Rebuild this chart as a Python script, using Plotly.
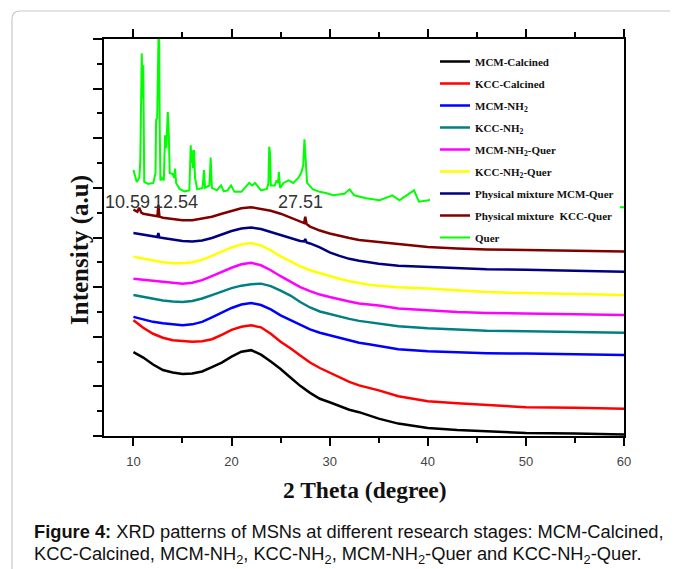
import plotly.graph_objects as go

# ---------------- data (arbitrary intensity units) ----------------
two_theta = [10, 11, 12, 13, 14, 15, 16, 17, 18, 19, 20, 21, 22, 23, 24, 25, 26, 27, 28,
             29, 30, 31, 32, 33, 34, 35, 37, 40, 43, 46, 50, 55, 60]

mcm_calcined = [1.69, 1.58, 1.44, 1.33, 1.28, 1.25, 1.26, 1.30, 1.39, 1.48, 1.60, 1.70, 1.73,
                1.64, 1.50, 1.35, 1.18, 1.01, 0.87, 0.75, 0.68, 0.60, 0.53, 0.48, 0.41, 0.35,
                0.25, 0.16, 0.12, 0.10, 0.06, 0.05, 0.03]
kcc_calcined = [2.33, 2.18, 2.06, 1.98, 1.93, 1.91, 1.90, 1.91, 1.95, 2.04, 2.14, 2.20, 2.23,
                2.19, 2.06, 1.90, 1.77, 1.62, 1.48, 1.37, 1.28, 1.18, 1.09, 1.02, 0.97, 0.92,
                0.80, 0.70, 0.66, 0.62, 0.58, 0.57, 0.55]
mcm_nh2 = [2.40, 2.35, 2.30, 2.27, 2.25, 2.23, 2.25, 2.30, 2.39, 2.49, 2.58, 2.65, 2.68,
           2.64, 2.55, 2.43, 2.34, 2.24, 2.15, 2.08, 2.03, 1.98, 1.93, 1.88, 1.85, 1.82,
           1.75, 1.71, 1.69, 1.67, 1.66, 1.64, 1.63]
kcc_nh2 = [2.84, 2.80, 2.76, 2.73, 2.71, 2.70, 2.72, 2.77, 2.84, 2.91, 2.98, 3.03, 3.06,
           3.07, 3.02, 2.93, 2.83, 2.70, 2.59, 2.51, 2.46, 2.40, 2.36, 2.32, 2.29, 2.27,
           2.21, 2.17, 2.14, 2.12, 2.11, 2.09, 2.08]
mcm_nh2_quer = [3.17, 3.15, 3.13, 3.10, 3.08, 3.07, 3.09, 3.14, 3.22, 3.31, 3.39, 3.46, 3.49,
                3.44, 3.34, 3.22, 3.11, 3.00, 2.92, 2.85, 2.80, 2.75, 2.71, 2.67, 2.65, 2.63,
                2.57, 2.53, 2.50, 2.48, 2.47, 2.45, 2.44]
kcc_nh2_quer = [3.61, 3.57, 3.53, 3.50, 3.48, 3.48, 3.50, 3.55, 3.63, 3.72, 3.80, 3.86, 3.89,
                3.84, 3.74, 3.62, 3.52, 3.42, 3.34, 3.28, 3.23, 3.17, 3.12, 3.08, 3.05, 3.03,
                3.00, 2.97, 2.93, 2.90, 2.88, 2.86, 2.84]

pm_mcm_x = [10, 11, 12, 12.45, 12.54, 12.65, 13, 14, 15, 16, 17, 18, 19, 20, 21, 22, 23, 24,
            25, 26, 27, 27.4, 27.51, 27.65, 28, 29, 30, 31, 32, 33, 34, 35, 37, 40, 43, 46,
            50, 55, 60]
pm_mcm_quer = [4.09, 4.06, 4.02, 4.01, 4.09, 4.00, 3.99, 3.96, 3.93, 3.92, 3.94, 3.99, 4.06,
               4.13, 4.18, 4.20, 4.17, 4.11, 4.04, 3.98, 3.93, 3.92, 3.97, 3.90, 3.88, 3.80,
               3.70, 3.63, 3.57, 3.53, 3.50, 3.47, 3.43, 3.41, 3.38, 3.36, 3.35, 3.33, 3.31]

pm_kcc_x = [10, 10.4, 10.59, 10.8, 11, 12, 12.45, 12.54, 12.65, 13, 14, 15, 16, 17, 18, 19,
            20, 21, 22, 23, 24, 25, 26, 27, 27.4, 27.51, 27.65, 28, 29, 30, 31, 32, 33, 34,
            35, 37, 40, 43, 46, 50, 55, 60]
pm_kcc_quer = [4.56, 4.52, 4.60, 4.50, 4.48, 4.44, 4.43, 4.66, 4.42, 4.40, 4.37, 4.35, 4.35,
               4.38, 4.42, 4.48, 4.54, 4.59, 4.61, 4.58, 4.54, 4.48, 4.40, 4.32, 4.29, 4.42,
               4.27, 4.22, 4.14, 4.08, 4.03, 3.99, 3.95, 3.93, 3.92, 3.87, 3.81, 3.78, 3.76,
               3.75, 3.73, 3.72]

quer_x = [10.0, 10.34, 10.6, 10.7, 10.85, 10.93, 11.0, 11.1, 11.5, 12.03, 12.25, 12.31, 12.42,
          12.5, 12.6, 12.68, 12.75, 12.9, 13.1, 13.22, 13.35, 13.5, 13.6, 13.7, 14.0, 14.15,
          14.24, 14.35, 14.7, 15.2, 15.7, 15.84, 15.92, 15.98, 16.08, 16.18, 16.28, 16.5,
          17.05, 17.19, 17.3, 17.75, 17.87, 18.0, 18.5, 18.93, 19.2, 19.6, 19.95, 20.3, 21.0,
          21.8, 22.1, 22.4, 23.0, 23.6, 23.76, 23.84, 23.92, 24.0, 24.4, 24.6, 24.75, 24.82,
          24.95, 25.3, 25.8, 26.3, 26.8, 27.1, 27.3, 27.43, 27.55, 27.7, 28.3, 29.0, 29.7,
          30.35, 31.5, 32.04, 32.5, 33.7, 35.1, 36.4, 37.1, 38.6, 39.1, 40.1, 40.8, 41.8,
          45, 50, 55, 60]
quer = [5.36, 5.12, 5.20, 5.55, 7.71, 6.80, 7.47, 5.12, 5.08, 5.10, 5.30, 6.37, 6.40,
        8.60, 8.60, 6.20, 5.15, 5.20, 5.15, 6.06, 5.80, 6.53, 6.10, 5.30, 5.28, 5.20,
        5.39, 5.10, 4.98, 4.93, 4.95, 5.86, 5.50, 5.75, 5.40, 5.76, 5.20, 4.97,
        5.00, 5.36, 5.00, 5.05, 5.61, 5.00, 4.95, 5.05, 4.93, 4.95, 5.05, 4.92, 4.92,
        5.10, 5.05, 5.10, 4.95, 4.98, 5.10, 5.83, 5.70, 5.05, 5.05, 5.15, 5.10, 5.32,
        5.00, 5.10, 5.15, 5.10, 5.20, 5.30, 5.45, 5.98, 5.60, 5.10, 4.97, 4.92, 4.89,
        4.85, 4.88, 4.97, 4.85, 4.79, 4.75, 4.85, 4.75, 4.95, 4.72, 4.75, 4.82, 4.72,
        4.68, 4.65, 4.63, 4.61]

peak_labels = ["10.59", "12.54", "27.51"]
peak_positions = [10.59, 12.54, 27.51]

x_ticks = [10, 20, 30, 40, 50, 60]

series = [
    ("MCM-Calcined", two_theta, mcm_calcined, "#000000"),
    ("KCC-Calcined", two_theta, kcc_calcined, "#ff0000"),
    ("MCM-NH<sub>2</sub>", two_theta, mcm_nh2, "#0000ff"),
    ("KCC-NH<sub>2</sub>", two_theta, kcc_nh2, "#008080"),
    ("MCM-NH<sub>2</sub>-Quer", two_theta, mcm_nh2_quer, "#ff00ff"),
    ("KCC-NH<sub>2</sub>-Quer", two_theta, kcc_nh2_quer, "#ffff00"),
    ("Physical mixture MCM-Quer", pm_mcm_x, pm_mcm_quer, "#000080"),
    ("Physical mixture  KCC-Quer", pm_kcc_x, pm_kcc_quer, "#800000"),
    ("Quer", quer_x, quer, "#00ff00"),
]

# ---------------- figure ----------------
# the page body has an 8px margin, so the figure is made 8px smaller and
# every reference-pixel position is shifted by that offset
OFF = 8
W, H = 678 - OFF, 569 - OFF
L, R, T, B = 104 - OFF, 624 - OFF, 39 - OFF, 436 - OFF


def pxx(p):
    return (p - OFF - L) / (R - L)


def pxy(p):
    return (B - (p - OFF)) / (B - T)


fig = go.Figure()
for i, (name, xs, ys, col) in enumerate(series):
    assert len(xs) == len(ys)
    fig.add_trace(go.Scatter(x=xs, y=ys, mode="lines", name=name,
                             legendgroup="g%d" % i,
                             line=dict(color=col, width=2 if name == "Quer" else 2.5)))

serif = "Liberation Serif, Times New Roman, serif"
sans = "Liberation Sans, Arial, sans-serif"

annotations = []
shifts = [-12, 17, -5]
for lab, pos, sh in zip(peak_labels, peak_positions, shifts):
    annotations.append(dict(x=pos, y=4.71, xref="x", yref="y", text=lab, showarrow=False,
                            xshift=sh, font=dict(family=sans, size=18, color="#333333")))

annotations.append(dict(x=pxx(365), y=pxy(490), xref="paper", yref="paper",
                        text="2 Theta (degree)", showarrow=False, yanchor="middle",
                        font=dict(family=serif, size=23.5, color="#111111", weight="bold")))
annotations.append(dict(x=pxx(80), y=pxy(250), xref="paper", yref="paper",
                        text="Intensity (a.u)", showarrow=False, textangle=-90,
                        xanchor="center", yanchor="middle",
                        font=dict(family=serif, size=25, color="#111111", weight="bold")))
annotations.append(dict(x=pxx(32), y=pxy(531), xref="paper", yref="paper",
                        xanchor="left", yanchor="middle", showarrow=False, align="left",
                        text="<b>Figure 4:</b> XRD patterns of MSNs at different research stages: MCM-Calcined,",
                        font=dict(family=sans, size=18.3, color="#111111")))
annotations.append(dict(x=pxx(32), y=pxy(555), xref="paper", yref="paper",
                        xanchor="left", yanchor="middle", showarrow=False, align="left",
                        text="KCC-Calcined, MCM-NH<sub>2</sub>, KCC-NH<sub>2</sub>, MCM-NH<sub>2</sub>-Quer and KCC-NH<sub>2</sub>-Quer.",
                        font=dict(family=sans, size=18.3, color="#111111")))

# rounded frame around the figure panel
x0, y0 = pxx(12), pxy(11)
xc, yc = pxx(20), pxy(19)
frame_path = "M %f,%f L %f,%f Q %f,%f %f,%f L %f,%f" % (
    x0, pxy(600), x0, yc, x0, y0, xc, y0, pxx(700), y0)

shapes = [
    dict(type="path", path=frame_path, xref="paper", yref="paper",
         line=dict(color="#c8c8c8", width=1.2), layer="below"),
    # white backing of the legend box (hides the Quer trace behind the legend)
    dict(type="rect", xref="paper", yref="paper", x0=pxx(430), x1=pxx(620),
         y0=pxy(246), y1=pxy(47), fillcolor="white", line=dict(width=0), layer="above"),
]

fig.update_layout(
    width=W, height=H,
    margin=dict(l=L, r=W - R, t=T, b=H - B),
    paper_bgcolor="white", plot_bgcolor="white",
    showlegend=True,
    legend=dict(x=pxx(435), y=pxy(47), xanchor="left", yanchor="top",
                bgcolor="rgba(255,255,255,0)", borderwidth=0,
                font=dict(family=serif, size=11, color="#111111", weight="bold"),
                tracegroupgap=3, itemwidth=30, traceorder="grouped"),
    annotations=annotations,
    shapes=shapes,
)

fig.update_xaxes(range=[7, 60], tickmode="array", tickvals=x_ticks,
                 ticks="outside", ticklen=8, tickwidth=2, tickcolor="black",
                 showline=True, linecolor="black", linewidth=2, mirror="ticks",
                 showgrid=False, zeroline=False,
                 tickfont=dict(family=sans, size=13, color="#444444"),
                 ticklabelstandoff=4,
                 minor=dict(tickmode="linear", tick0=5, dtick=5, ticks="outside",
                            ticklen=5, tickwidth=2, tickcolor="black", showgrid=False))
fig.update_yaxes(range=[0, 8], tickmode="linear", tick0=0, dtick=1,
                 ticks="outside", ticklen=9, tickwidth=2, tickcolor="black",
                 showticklabels=False,
                 showline=True, linecolor="black", linewidth=2, mirror=True,
                 showgrid=False, zeroline=False,
                 minor=dict(tickmode="linear", tick0=0.5, dtick=1, ticks="outside",
                            ticklen=5, tickwidth=2, tickcolor="black", showgrid=False))

fig.write_html("out.html")
